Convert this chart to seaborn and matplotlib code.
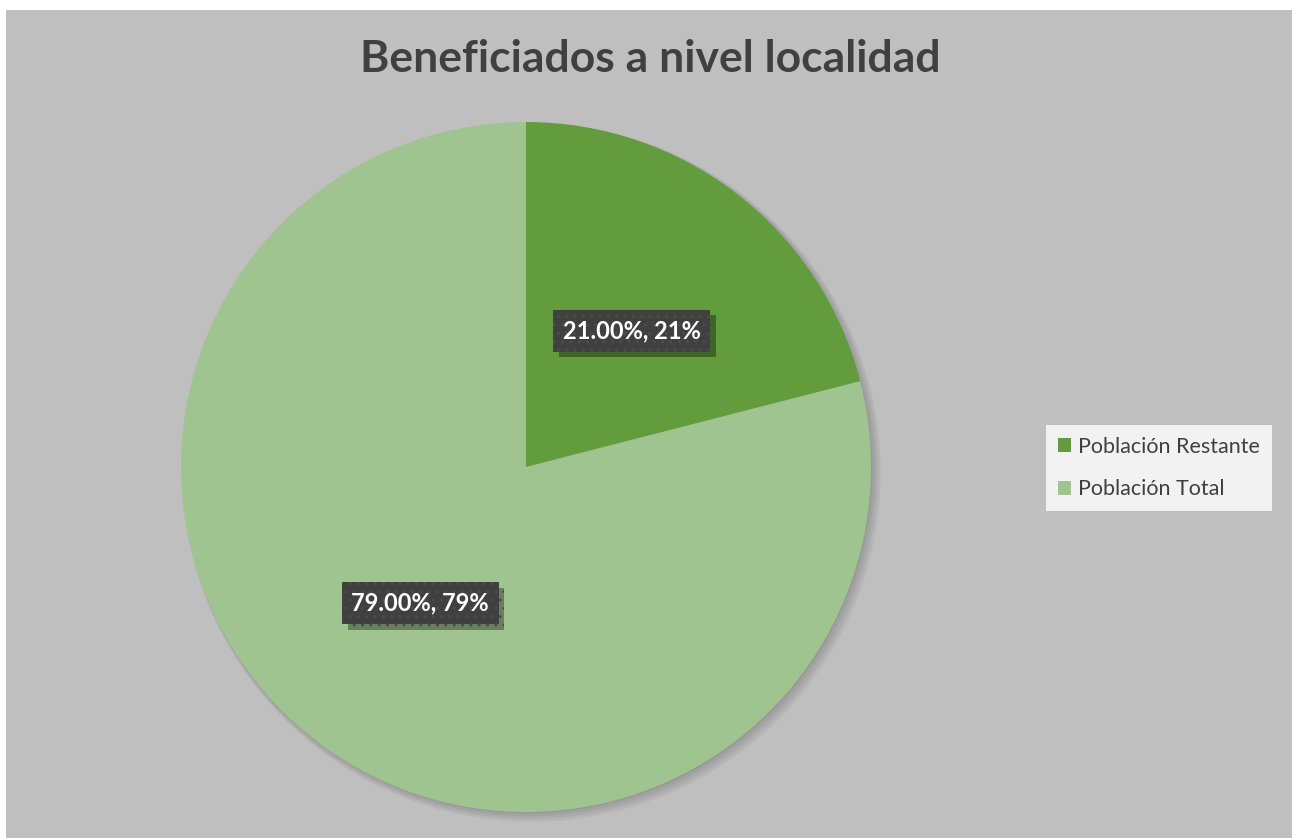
import matplotlib
matplotlib.use("Agg")
import matplotlib.pyplot as plt
import matplotlib.patches as mpatches
import matplotlib.patheffects as pe
import seaborn as sns

categories = ["Población Restante", "Población Total"]
values = [21, 79]
colors = ["#629C3C", "#A0C490"]
title = "Beneficiados a nivel localidad"

sns.set_theme(style="white")
plt.rcParams['font.family'] = ['Lato', 'DejaVu Sans']

W, H = 1298, 838
fig = plt.figure(figsize=(W / 100, H / 100), dpi=100, facecolor="white")
fig.patches.append(mpatches.Rectangle((6 / W, 0), (1292 - 6) / W, (838 - 10) / H,
                                      transform=fig.transFigure, facecolor="#BFBFBF",
                                      edgecolor="none", zorder=-5))

cx, cy, r = 526, 838 - 467, 345
ax = fig.add_axes([(cx - r) / W, (cy - r) / H, 2 * r / W, 2 * r / H])
ax.set_zorder(2)
ax.patch.set_alpha(0)

# soft shadow behind the pie
for k, a in enumerate([0.05, 0.05, 0.05, 0.05]):
    ax.add_patch(mpatches.Circle((0.004 * (k + 1), -0.004 * (k + 1)), 1.0 + 0.004 * k,
                                 facecolor="black", edgecolor="none", alpha=a, zorder=0,
                                 clip_on=False))

wedges, texts, autotexts = ax.pie(
    values, colors=colors, startangle=90, counterclock=False,
    autopct=lambda p: f"{p:.2f}%, {p:.0f}%", pctdistance=0.5,
    wedgeprops=dict(linewidth=0, zorder=1),
    textprops=dict(color="white", fontsize=17, fontweight="bold"))
ax.set_xlim(-1, 1)
ax.set_ylim(-1, 1)
ax.set_aspect("equal")

for t in autotexts:
    t.set_zorder(5)
    t.set_bbox(dict(boxstyle="square,pad=0.4", facecolor="#404040", edgecolor="#4c4c4c",
                    hatch="..", linewidth=0))
    t.get_bbox_patch().set_path_effects([
        pe.SimplePatchShadow(offset=(4, -4), alpha=0.35, shadow_rgbFace="black"), pe.Normal()])

fig.text(650 / W, 1 - 59 / H, title, ha="center", va="center", fontsize=32,
         fontweight="bold", color="#404040")

handles = [mpatches.Patch(facecolor=c, edgecolor="none", label=l) for c, l in zip(colors, categories)]
leg = fig.legend(handles=handles, loc="center left", bbox_to_anchor=(1046 / W, 1 - 468 / H),
                 frameon=True, fontsize=15.5, handlelength=0.6, handleheight=0.6,
                 handletextpad=0.35, labelspacing=1.05, borderpad=0.55, borderaxespad=0,
                 fancybox=False, labelcolor="#404040")
leg.get_frame().set_facecolor("#F2F2F2")
leg.get_frame().set_edgecolor("none")
leg.get_frame().set_alpha(1)

fig.savefig("out.png", dpi=100, facecolor="white")
